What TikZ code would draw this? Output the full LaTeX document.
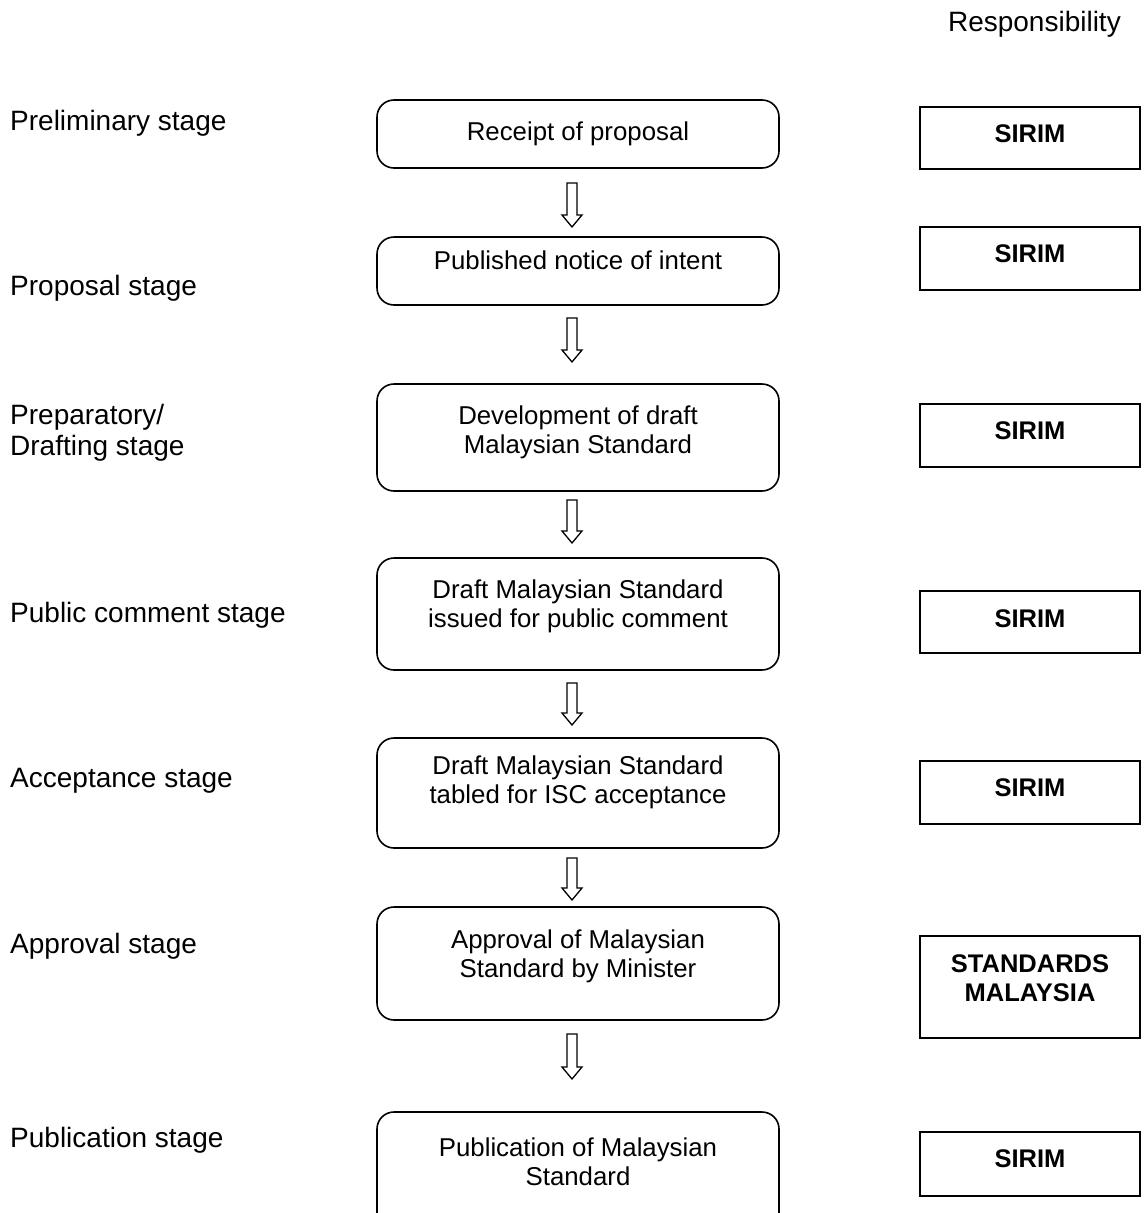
\documentclass[tikz,border=0pt]{standalone}
\usepackage{fontspec}
\setmainfont{Liberation Sans}
\usetikzlibrary{calc}
\tikzset{
  stagelabel/.style={anchor=base west, inner sep=0pt, font=\fontsize{28}{31}\selectfont, align=left},
  proctext/.style={anchor=base, inner sep=0pt, font=\fontsize{25.8}{28.5}\selectfont, align=center},
  resptext/.style={anchor=base, inner sep=0pt, font=\bfseries\fontsize{25.5}{29}\selectfont, align=center},
  procbox/.style={draw, line width=1.6pt, rounded corners=17pt, minimum width=402pt, inner sep=0pt},
  respbox/.style={draw, line width=2pt, minimum width=220pt, inner sep=0pt},
  hollowarrow/.style={draw, line width=1.3pt, line join=miter, fill=white},
}
\newcommand\hollowdown[2]{%
  \path[hollowarrow] let \p1=(#1), \p2=(#2) in
    (\x1-5pt,\y1) -- (\x1+5pt,\y1) -- (\x1+5pt,\y2+12pt) -- (\x1+10pt,\y2+12pt)
    -- (\x1,\y2) -- (\x1-10pt,\y2+12pt) -- (\x1-5pt,\y2+12pt) -- cycle;}
\begin{document}
\begin{tikzpicture}[x=1pt,y=-1pt]
\clip (0,0) rectangle (1144,1213);
\fill[white] (0,0) rectangle (1144,1213);

% header
\node[anchor=base east, inner sep=0pt, font=\fontsize{28}{31}\selectfont] (resp) at (1121,31) {Responsibility};

% stage labels (anchor = baseline of last line)
\node[stagelabel] (s1) at (10,130) {Preliminary stage};
\node[stagelabel] (s2) at (10,295) {Proposal stage};
\node[stagelabel] (s3) at (10,455) {Preparatory/\\Drafting stage};
\node[stagelabel] (s4) at (10,622) {Public comment stage};
\node[stagelabel] (s5) at (10,787) {Acceptance stage};
\node[stagelabel] (s6) at (10,953) {Approval stage};
\node[stagelabel] (s7) at (10,1147) {Publication stage};

% process boxes
\node[procbox, minimum height=68pt]  (p1) at (578,134) {};
\node[procbox, minimum height=68pt]  (p2) at (578,271) {};
\node[procbox, minimum height=107pt] (p3) at (578,437.5) {};
\node[procbox, minimum height=112pt] (p4) at (578,614) {};
\node[procbox, minimum height=110pt] (p5) at (578,793) {};
\node[procbox, minimum height=113pt] (p6) at (578,963.5) {};
\node[procbox, minimum height=130pt] (p7) at (578,1177) {};

\node[proctext] (t1) at (578,140) {Receipt of proposal};
\node[proctext] (t2) at (578,269) {Published notice of intent};
\node[proctext] (t3) at (578,453) {Development of draft\\Malaysian Standard};
\node[proctext] (t4) at (578,627) {Draft Malaysian Standard\\issued for public comment};
\node[proctext] (t5) at (578,803) {Draft Malaysian Standard\\tabled for ISC acceptance};
\node[proctext] (t6) at (578,977) {Approval of Malaysian\\Standard by Minister};
\node[proctext] (t7) at (578,1185) {Publication of Malaysian\\Standard};

% responsibility boxes
\node[respbox, minimum height=62pt]  (r1) at (1030,138) {};
\node[respbox, minimum height=63pt]  (r2) at (1030,258.5) {};
\node[respbox, minimum height=63pt]  (r3) at (1030,435.5) {};
\node[respbox, minimum height=62pt]  (r4) at (1030,622) {};
\node[respbox, minimum height=63pt]  (r5) at (1030,792.5) {};
\node[respbox, minimum height=102pt] (r6) at (1030,987) {};
\node[respbox, minimum height=64pt]  (r7) at (1030,1164) {};

\node[resptext] (q1) at (1030,142) {SIRIM};
\node[resptext] (q2) at (1030,262) {SIRIM};
\node[resptext] (q3) at (1030,439) {SIRIM};
\node[resptext] (q4) at (1030,627) {SIRIM};
\node[resptext] (q5) at (1030,796) {SIRIM};
\node[resptext] (q6) at (1030,1001) {STANDARDS\\MALAYSIA};
\node[resptext] (q7) at (1030,1167) {SIRIM};

% arrows between boxes
\coordinate (a1s) at (572,183);  \coordinate (a1e) at (572,227);
\coordinate (a2s) at (572,318);  \coordinate (a2e) at (572,362);
\coordinate (a3s) at (572,500);  \coordinate (a3e) at (572,543);
\coordinate (a4s) at (572,683);  \coordinate (a4e) at (572,725);
\coordinate (a5s) at (572,858);  \coordinate (a5e) at (572,900);
\coordinate (a6s) at (572,1034); \coordinate (a6e) at (572,1079);
\hollowdown{a1s}{a1e}
\hollowdown{a2s}{a2e}
\hollowdown{a3s}{a3e}
\hollowdown{a4s}{a4e}
\hollowdown{a5s}{a5e}
\hollowdown{a6s}{a6e}
\end{tikzpicture}
\end{document}
